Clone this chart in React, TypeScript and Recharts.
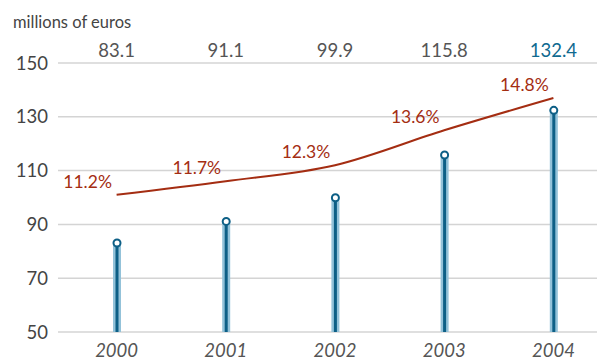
import { ComposedChart, Bar, Line, XAxis, YAxis, CartesianGrid, LabelList } from 'recharts';

const years = ['2000', '2001', '2002', '2003', '2004'];
const revenue = [83.1, 91.1, 99.9, 115.8, 132.4];
const share = [11.2, 11.7, 12.3, 13.6, 14.8];
const yTicks = [50, 70, 90, 110, 130, 150];

const data = years.map((year, i) => ({ year, value: revenue[i], pct: share[i] }));

const FONT = 'Lato, "Open Sans", sans-serif';
const DARK_BLUE = '#0d5f86';
const LIGHT_BLUE = '#93c2d9';
const RED = '#a42d12';

function Lollipop(props: any) {
  const { x, y, width, height } = props;
  const cx = x + width / 2;
  return (
    <g>
      <rect x={cx - 4} y={y} width={8} height={height} fill={LIGHT_BLUE} />
      <rect x={cx - 1.5} y={y} width={3} height={height} fill={DARK_BLUE} />
      <circle cx={cx} cy={y} r={3.5} fill="#fff" stroke={DARK_BLUE} strokeWidth={2} />
    </g>
  );
}

function TopTick(props: any) {
  const { x, y, index } = props;
  const last = index === revenue.length - 1;
  return (
    <text x={x} y={y + 2} textAnchor="middle" fontFamily={FONT} fontSize={18.5} fill={last ? '#0f6a90' : '#555'}>
      {revenue[index].toFixed(1)}
    </text>
  );
}

function PctLabel(props: any) {
  const { x, y, value } = props;
  return (
    <text x={x - 29} y={y - 7} textAnchor="middle" fontFamily={FONT} fontSize={17.5} fill={RED}>
      {value.toFixed(1)}%
    </text>
  );
}

export default function App() {
  return (
    <div style={{ position: 'absolute', left: 0, top: 0, width: 597, height: 363, overflow: 'hidden', background: '#fff' }}>
      <div style={{ position: 'absolute', left: 13, top: 12, fontFamily: FONT, fontSize: 16.5, color: '#444' }}>
        millions of euros
      </div>
      <ComposedChart width={608} height={363} data={data} margin={{ top: 33, right: 0, bottom: 0, left: 0 }}>
        <CartesianGrid horizontal vertical={false} stroke="#d4d4d4" strokeWidth={1.5} />
        <XAxis
          dataKey="year"
          padding={{ left: 4, right: 0 }}
          axisLine={false}
          tickLine={false}
          height={31}
          tick={{ fontFamily: FONT, fontSize: 18.5, fontStyle: 'italic', fill: '#555' }}
          tickMargin={6}
        />
        <XAxis
          xAxisId="top"
          orientation="top"
          dataKey="year"
          padding={{ left: 4, right: 0 }}
          axisLine={false}
          tickLine={false}
          height={30}
          tick={<TopTick />}
        />
        <YAxis
          domain={[50, 150]}
          ticks={yTicks}
          axisLine={false}
          tickLine={false}
          width={58}
          tickMargin={4}
          tick={{ fontFamily: FONT, fontSize: 18.5, fill: '#444' }}
        />
        <YAxis yAxisId="pct" hide domain={[6.1, 16.1]} />
        <Bar dataKey="value" barSize={8} shape={<Lollipop />} isAnimationActive={false} />
        <Line
          yAxisId="pct"
          type="monotone"
          dataKey="pct"
          stroke={RED}
          strokeWidth={2}
          dot={false}
          isAnimationActive={false}
        >
          <LabelList dataKey="pct" content={<PctLabel />} />
        </Line>
      </ComposedChart>
    </div>
  );
}
